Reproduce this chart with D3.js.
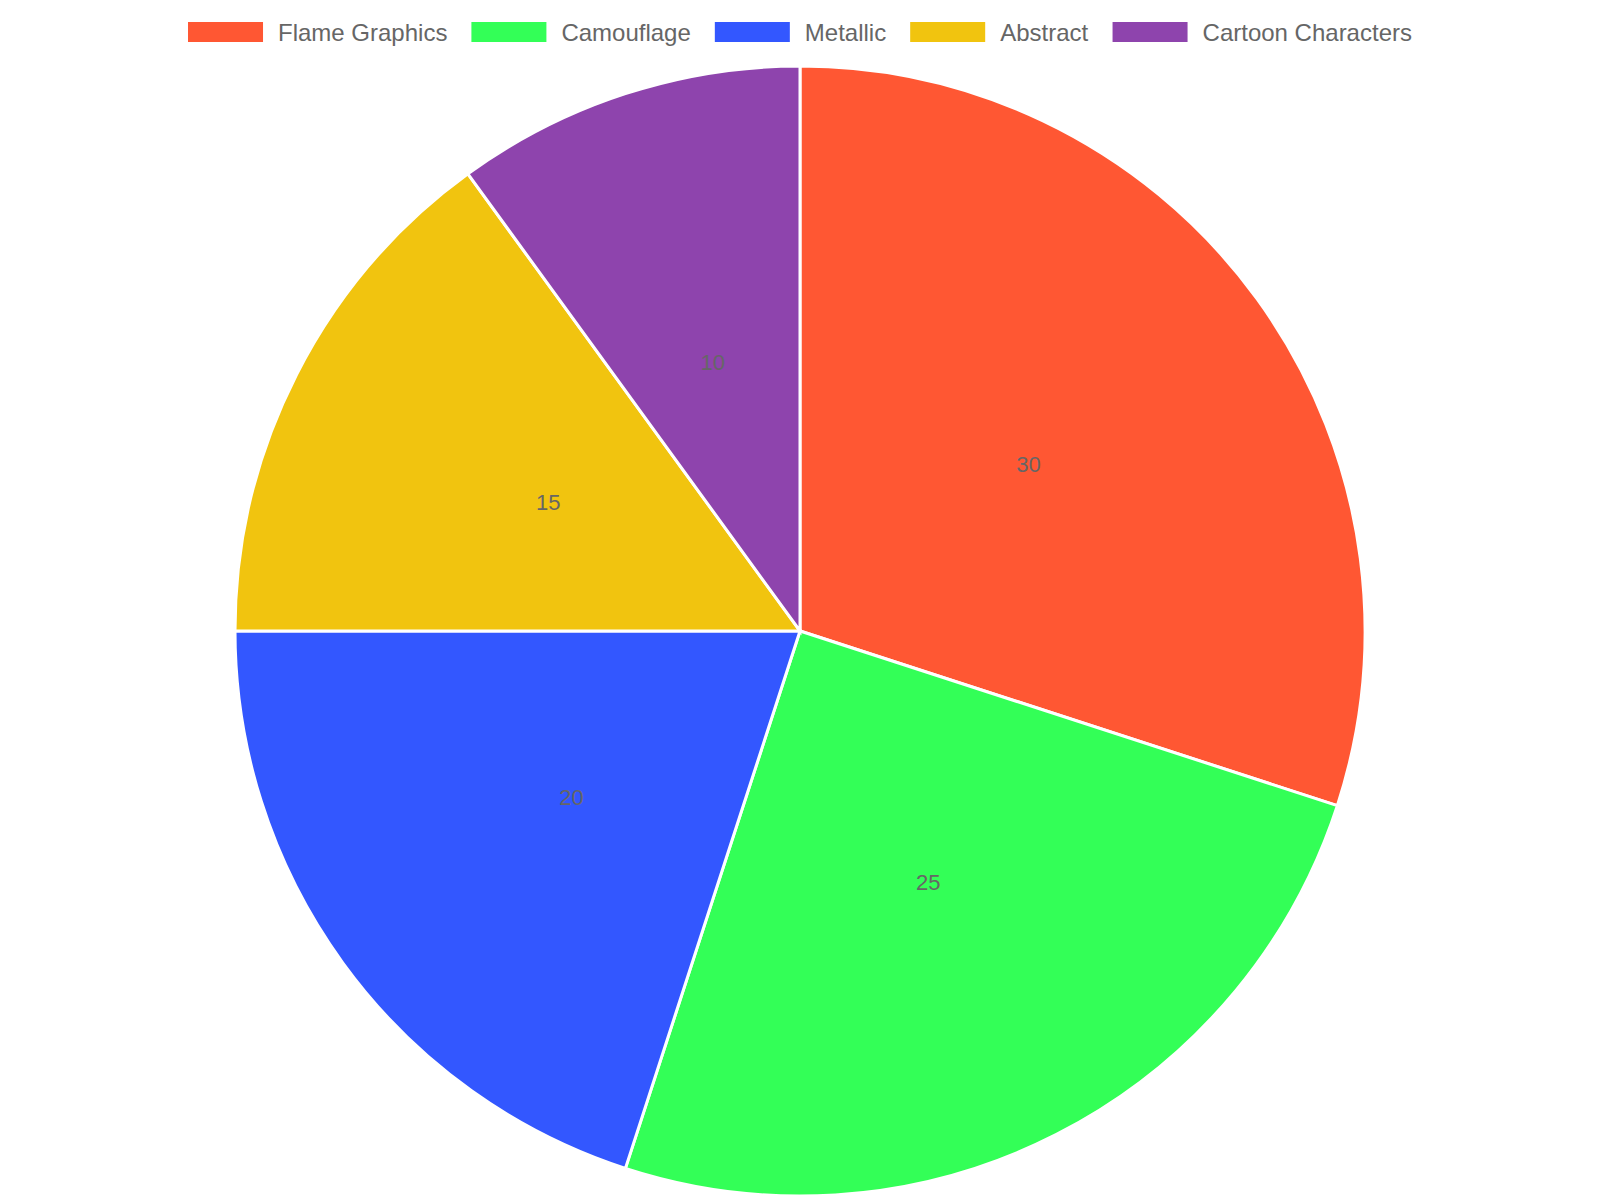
<!DOCTYPE html>
<html>
  <head>
    <meta charset="UTF-8">
    <title>Pie</title>
    <script src="https://d3js.org/d3.v7.min.js"></script>
    <style>
      body { margin: 0; background: #fff; }
      text { font-family: "Liberation Sans", Arial, sans-serif; }
    </style>
  </head>
  <body>
    <svg width="1600" height="1200"></svg>
    <script>
      const categories = ["Flame Graphics", "Camouflage", "Metallic", "Abstract", "Cartoon Characters"];
      const values = [30, 25, 20, 15, 10];
      const colors = ["#FF5733", "#33FF57", "#3357FF", "#F1C40F", "#8E44AD"];

      const width = 1600;
      const height = 1200;
      const cx = 800, cy = 631, radius = 565;

      const svg = d3.select("svg");

      const pie = d3.pie().sort(null).value(d => d.value);
      const arc = d3.arc().innerRadius(0).outerRadius(radius);
      const labelArc = d3.arc().innerRadius(radius / 2).outerRadius(radius / 2);

      const data = categories.map((c, i) => ({ name: c, value: values[i], color: colors[i] }));
      const arcs = pie(data);

      const g = svg.append("g").attr("transform", `translate(${cx},${cy})`);

      g.selectAll("path")
        .data(arcs)
        .join("path")
        .attr("d", arc)
        .attr("fill", d => d.data.color)
        .attr("stroke", "#fff")
        .attr("stroke-width", 3);

      g.selectAll("text")
        .data(arcs)
        .join("text")
        .attr("transform", d => `translate(${labelArc.centroid(d)})`)
        .attr("text-anchor", "middle")
        .attr("dominant-baseline", "central")
        .attr("font-size", 22)
        .attr("fill", "#666")
        .text(d => d.data.value);

      // legend, centered row at the top
      const fontSize = 24, boxW = 75, boxH = 20, boxGap = 15, itemGap = 24;
      const legend = svg.append("g");
      const items = legend.selectAll("g")
        .data(data)
        .join("g");
      items.append("rect")
        .attr("width", boxW)
        .attr("height", boxH)
        .attr("y", -boxH / 2)
        .attr("fill", d => d.color);
      items.append("text")
        .attr("x", boxW + boxGap)
        .attr("dominant-baseline", "central")
        .attr("font-size", fontSize)
        .attr("fill", "#666")
        .text(d => d.name);

      let x = 0;
      const offsets = [];
      items.each(function () {
        offsets.push(x);
        x += this.getBBox().width + itemGap;
      });
      const total = x - itemGap;
      items.attr("transform", (d, i) => `translate(${offsets[i]},0)`);
      legend.attr("transform", `translate(${(width - total) / 2},32)`);
    </script>
  </body>
</html>
